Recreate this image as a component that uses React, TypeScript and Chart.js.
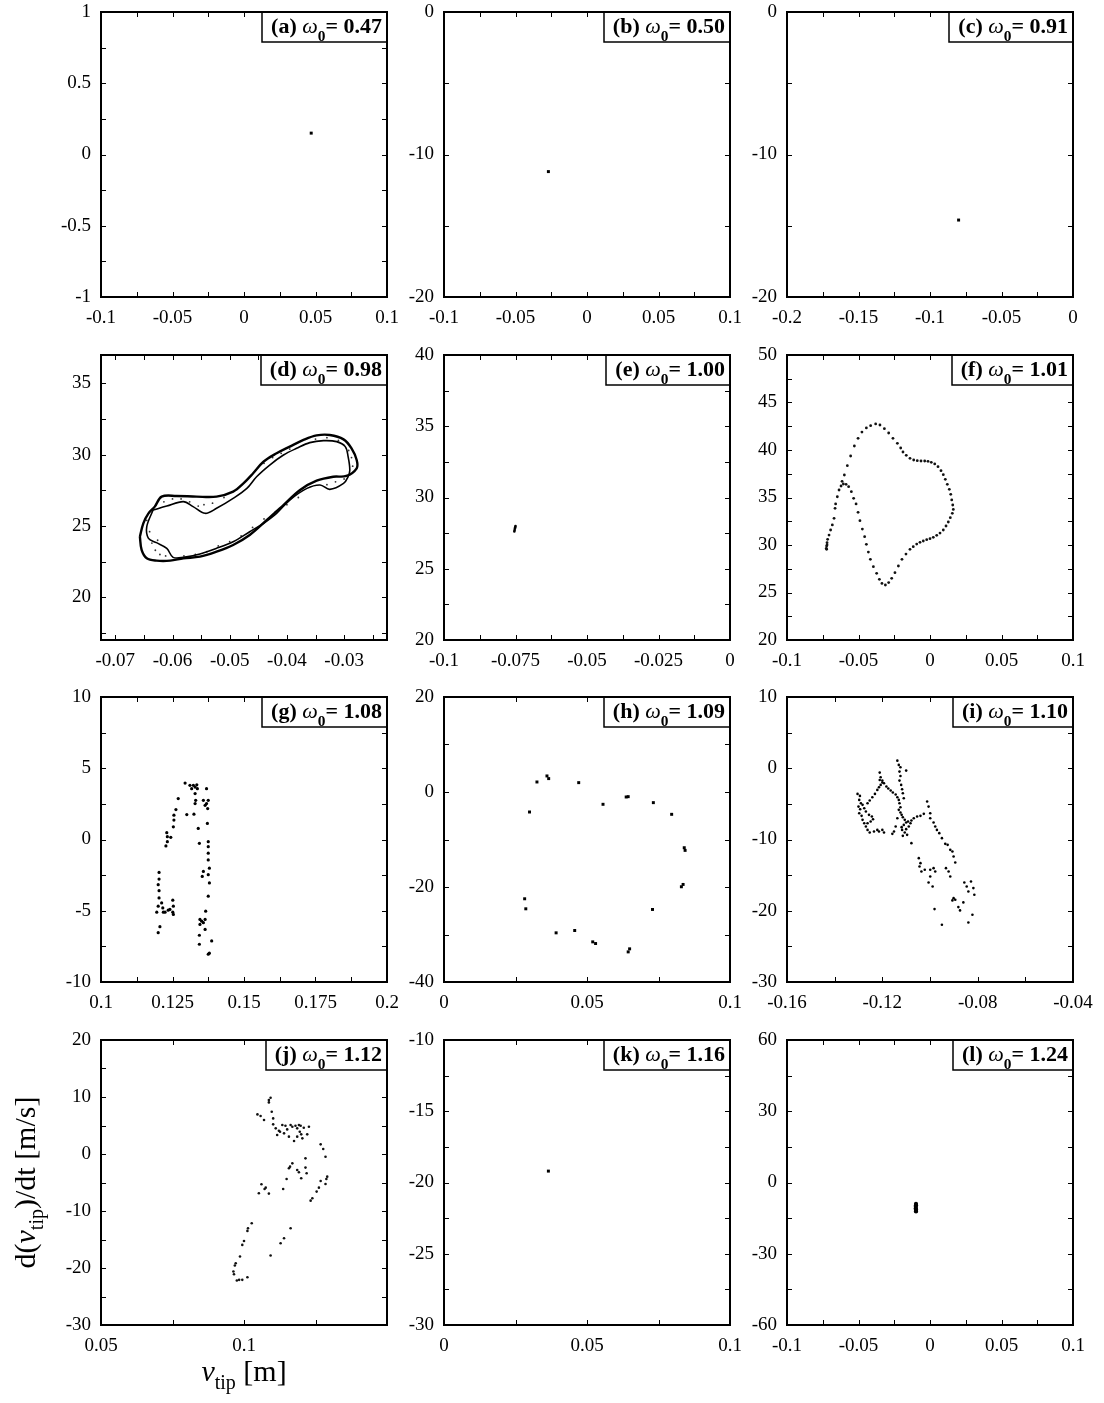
import React, { useEffect, useRef } from "react";
import { Chart, registerables } from "chart.js";
Chart.register(...registerables);
Chart.defaults.color = "#000";

const FONT = "'Liberation Serif', 'Times New Roman', Times, serif";

// ---------- panel meta ----------
const panelTags = ["(a)", "(b)", "(c)", "(d)", "(e)", "(f)", "(g)", "(h)", "(i)", "(j)", "(k)", "(l)"];
const omegaValues = ["0.47", "0.50", "0.91", "0.98", "1.00", "1.01", "1.08", "1.09", "1.10", "1.12", "1.16", "1.24"];

const xRanges = [[-0.1, 0.1], [-0.1, 0.1], [-0.2, 0], [-0.0725, -0.0225], [-0.1, 0], [-0.1, 0.1], [0.1, 0.2], [0, 0.1], [-0.16, -0.04], [0.05, 0.15], [0, 0.1], [-0.1, 0.1]];
const yRanges = [[-1, 1], [-20, 0], [-20, 0], [17, 37], [20, 40], [20, 50], [-10, 10], [-40, 20], [-30, 10], [-30, 20], [-30, -10], [-60, 60]];

const xTickLabels = [
  [-0.1, -0.05, 0, 0.05, 0.1],
  [-0.1, -0.05, 0, 0.05, 0.1],
  [-0.2, -0.15, -0.1, -0.05, 0],
  [-0.07, -0.06, -0.05, -0.04, -0.03],
  [-0.1, -0.075, -0.05, -0.025, 0],
  [-0.1, -0.05, 0, 0.05, 0.1],
  [0.1, 0.125, 0.15, 0.175, 0.2],
  [0, 0.05, 0.1],
  [-0.16, -0.12, -0.08, -0.04],
  [0.05, 0.1],
  [0, 0.05, 0.1],
  [-0.1, -0.05, 0, 0.05, 0.1],
];
const yTickLabels = [
  [-1, -0.5, 0, 0.5, 1],
  [-20, -10, 0],
  [-20, -10, 0],
  [20, 25, 30, 35],
  [20, 25, 30, 35, 40],
  [20, 25, 30, 35, 40, 45, 50],
  [-10, -5, 0, 5, 10],
  [-40, -20, 0, 20],
  [-30, -20, -10, 0, 10],
  [-30, -20, -10, 0, 10, 20],
  [-30, -25, -20, -15, -10],
  [-60, -30, 0, 30, 60],
];

// ---------- data ----------
const dataA = [[0.047, 0.15]];
const dataB = [[-0.027, -11.2]];
const dataC = [[-0.08, -14.6]];

const dOuter = [
  [-0.0657, 24.25], [-0.0654, 23.32], [-0.0645, 22.73], [-0.0628, 22.57], [-0.0604, 22.57], [-0.0581, 22.73],
  [-0.0552, 22.85], [-0.0523, 23.2], [-0.0494, 23.67], [-0.0465, 24.37], [-0.0435, 25.42], [-0.0406, 26.47],
  [-0.0377, 27.53], [-0.0348, 28.18], [-0.0319, 28.46], [-0.0296, 28.51], [-0.0278, 29.05], [-0.0278, 29.63],
  [-0.0287, 30.45], [-0.0301, 31.08], [-0.0325, 31.39], [-0.0348, 31.36], [-0.0371, 31.04], [-0.0395, 30.57],
  [-0.0418, 30.1], [-0.0441, 29.51], [-0.0459, 28.7], [-0.0476, 27.99], [-0.0494, 27.41], [-0.0523, 27.06],
  [-0.0558, 27.06], [-0.0593, 27.11], [-0.0619, 27.06], [-0.0631, 26.36], [-0.0642, 25.89], [-0.0651, 25.19],
];
const dInner = [
  [-0.0634, 26.12], [-0.061, 26.4], [-0.0581, 26.71], [-0.0564, 26.36], [-0.0543, 25.89], [-0.0523, 26.24],
  [-0.0494, 26.94], [-0.047, 27.64], [-0.0453, 28.46], [-0.043, 29.28], [-0.0406, 29.98], [-0.0383, 30.45],
  [-0.036, 30.85], [-0.0336, 30.99], [-0.0313, 30.92], [-0.0298, 30.57], [-0.0293, 29.87], [-0.029, 28.93],
  [-0.0293, 28.46], [-0.0301, 27.99], [-0.0325, 27.57], [-0.0342, 27.88], [-0.0365, 27.64], [-0.0395, 26.82],
  [-0.0418, 25.89], [-0.0441, 25.19], [-0.0465, 24.6], [-0.0494, 23.9], [-0.0523, 23.43], [-0.0552, 23.04],
  [-0.0581, 22.8], [-0.0599, 22.8], [-0.061, 23.43], [-0.0628, 23.83], [-0.0642, 24.13], [-0.0645, 24.95],
];
const dBand = [
  [-0.064, 24.6], [-0.0636, 23.8], [-0.063, 23.3], [-0.0622, 23.0], [-0.0612, 22.9], [-0.0645, 25.4], [-0.0626, 24.0],
  [-0.0615, 26.7], [-0.06, 26.9], [-0.0585, 26.9], [-0.057, 26.7], [-0.0555, 26.4], [-0.0545, 26.5], [-0.053, 26.6], [-0.051, 27.0],
  [-0.044, 29.4], [-0.0425, 29.8], [-0.041, 30.1], [-0.0395, 30.4], [-0.035, 31.1], [-0.033, 31.2], [-0.031, 31.0],
  [-0.0292, 30.3], [-0.0287, 29.8], [-0.0285, 29.2], [-0.03, 28.3], [-0.0315, 28.1], [-0.033, 27.9],
  [-0.038, 27.0], [-0.04, 26.5], [-0.042, 26.0], [-0.044, 25.5], [-0.046, 24.9], [-0.048, 24.3], [-0.05, 23.9],
  [-0.052, 23.6], [-0.054, 23.2], [-0.056, 23.0], [-0.058, 22.9],
];

const dataE = [[-0.0754, 27.62], [-0.0753, 27.72], [-0.0752, 27.82], [-0.0751, 27.92], [-0.075, 28.0]];

const dataF = [
  [-0.0725, 29.65], [-0.0723, 29.54], [-0.0723, 29.89], [-0.072, 30.0], [-0.072, 30.25], [-0.0716, 30.6], [-0.0706, 31.05],
  [-0.0695, 31.58], [-0.0683, 32.11], [-0.0671, 32.81], [-0.0664, 33.86], [-0.066, 34.32], [-0.0648, 35.08],
  [-0.0636, 35.79], [-0.0622, 36.21], [-0.0606, 36.42], [-0.0587, 36.39], [-0.0569, 36.14], [-0.055, 35.61],
  [-0.0534, 34.91], [-0.0517, 34.32], [-0.0503, 33.44], [-0.049, 32.56], [-0.0473, 31.68], [-0.0457, 30.88],
  [-0.0445, 30.07], [-0.0431, 29.26], [-0.0417, 28.49], [-0.0396, 27.72], [-0.0373, 27.02], [-0.0354, 26.39],
  [-0.0336, 25.96], [-0.0312, 25.79], [-0.0289, 26.04], [-0.0268, 26.49], [-0.0245, 27.09], [-0.0221, 27.79],
  [-0.0196, 28.49], [-0.0168, 29.05], [-0.014, 29.54], [-0.0117, 29.82], [-0.0093, 30.1], [-0.007, 30.28],
  [-0.0047, 30.42], [-0.0023, 30.56], [0.0, 30.67], [0.0023, 30.81], [0.0047, 31.02], [0.007, 31.26],
  [0.0093, 31.58], [0.0112, 32.0], [0.0128, 32.42], [0.0142, 32.88], [0.0156, 33.33], [0.0163, 33.75],
  [0.0159, 34.21], [0.0152, 34.74], [0.0145, 35.33], [0.0135, 35.86], [0.0121, 36.39], [0.0107, 36.91],
  [0.0093, 37.4], [0.0077, 37.82], [0.0056, 38.25], [0.0033, 38.53], [0.0009, 38.7], [-0.0014, 38.81],
  [-0.0037, 38.84], [-0.0063, 38.84], [-0.0089, 38.88], [-0.0114, 38.95], [-0.014, 39.12], [-0.0166, 39.44],
  [-0.0189, 39.79], [-0.0205, 40.21], [-0.0228, 40.7], [-0.0259, 41.23], [-0.0289, 41.79], [-0.0319, 42.25],
  [-0.035, 42.63], [-0.038, 42.74], [-0.0415, 42.56], [-0.0445, 42.32], [-0.0476, 41.89], [-0.0503, 41.23],
  [-0.0529, 40.42], [-0.0555, 39.37], [-0.0578, 38.35], [-0.0599, 37.37], [-0.0615, 36.7],
];

const dataG = [
  [0.12, -6.54], [0.1206, -6.12], [0.1195, -5.1], [0.12, -4.68], [0.1203, -4.1], [0.1203, -3.59], [0.12, -3.17],
  [0.1203, -2.78], [0.1203, -2.31], [0.1212, -4.45], [0.1216, -4.8], [0.1218, -5.1], [0.1224, -5.1], [0.1235, -4.96],
  [0.1241, -4.91], [0.1251, -4.26], [0.1253, -4.68], [0.1253, -5.26], [0.1251, -5.1],
  [0.1227, -0.45], [0.1232, -0.15], [0.1232, 0.2], [0.123, 0.48], [0.1244, 0.15], [0.1253, 0.89], [0.1255, 1.36],
  [0.1255, 1.71], [0.1262, 2.1], [0.127, 2.87],
  [0.1294, 3.96], [0.1311, 3.8], [0.1317, 3.57], [0.1323, 3.8], [0.1329, 3.68], [0.1335, 3.84], [0.1337, 3.57],
  [0.1329, 3.22], [0.1331, 2.75], [0.1329, 2.52], [0.1325, 1.78], [0.13, 1.75], [0.134, 0.78], [0.1344, -0.27],
  [0.1358, 2.75], [0.1364, 2.4], [0.1369, 2.52], [0.1375, 2.75], [0.1369, 3.57], [0.1373, 2.17], [0.1372, 1.13],
  [0.1375, -0.15], [0.1375, -0.5], [0.1375, -0.96], [0.1375, -1.43], [0.1379, -2.01], [0.1375, -2.47],
  [0.1379, -3.05], [0.1375, -3.98], [0.1366, -5.03], [0.1364, -5.61], [0.1358, -5.84], [0.1352, -5.73],
  [0.1346, -5.96], [0.1346, -5.61], [0.1364, -6.31], [0.1344, -6.72], [0.1344, -7.35], [0.1375, -8.05],
  [0.1379, -7.98], [0.1387, -7.12], [0.1358, -2.24], [0.1354, -2.59],
];

const dataH = [
  [0.0325, 2.11], [0.0366, 2.82], [0.036, 3.38], [0.0471, 1.97], [0.0299, -4.21], [0.0556, -2.59], [0.0644, -0.98],
  [0.0637, -1.05], [0.0732, -2.24], [0.0796, -4.7], [0.0843, -12.29], [0.084, -11.73], [0.083, -19.95],
  [0.0836, -19.46], [0.0729, -24.73], [0.0282, -22.48], [0.0286, -24.59], [0.0392, -29.65], [0.0457, -29.16],
  [0.052, -31.55], [0.053, -31.9], [0.0644, -33.66], [0.0649, -33.02],
];

const dataI = [
  [-0.1304, -3.6], [-0.1294, -3.88], [-0.1297, -4.44], [-0.129, -4.91], [-0.13, -5.38], [-0.1293, -5.75],
  [-0.1297, -6.31], [-0.1287, -6.68], [-0.1283, -7.24], [-0.1276, -7.71], [-0.1269, -8.18], [-0.1262, -8.65],
  [-0.1253, -9.02], [-0.1235, -8.88], [-0.1221, -8.65], [-0.1214, -8.88], [-0.12, -8.65], [-0.1193, -9.02],
  [-0.1283, -5.14], [-0.1276, -5.61], [-0.1269, -6.08], [-0.1256, -6.54], [-0.1244, -6.78], [-0.1239, -7.15],
  [-0.1249, -7.48], [-0.1262, -7.71],
  [-0.1262, -4.91], [-0.1253, -4.53], [-0.1242, -4.07], [-0.1231, -3.6], [-0.1221, -3.04], [-0.1214, -2.66],
  [-0.1207, -2.34], [-0.12, -2.01], [-0.1211, -1.64], [-0.1207, -1.26], [-0.1211, -0.61], [-0.12, -1.73],
  [-0.1193, -2.1], [-0.1183, -2.57], [-0.1175, -2.85], [-0.1165, -3.13], [-0.1156, -3.41], [-0.1144, -3.69],
  [-0.1137, -4.07], [-0.1131, -4.44], [-0.1128, -4.91], [-0.1124, -5.47],
  [-0.1137, 1.07], [-0.1131, 0.47], [-0.1124, 0.14], [-0.1128, -0.47], [-0.1124, -1.08], [-0.1128, -1.73],
  [-0.1121, -2.34], [-0.1117, -2.95], [-0.1114, -3.51], [-0.11, -0.33], [-0.111, -4.21],
  [-0.1131, -5.84], [-0.1124, -6.22], [-0.1119, -6.54], [-0.1114, -6.87], [-0.1106, -7.24], [-0.11, -7.62],
  [-0.111, -7.95], [-0.1119, -8.27], [-0.1117, -8.65], [-0.1106, -9.02], [-0.1096, -9.35], [-0.1114, -9.49],
  [-0.11, -8.55], [-0.1089, -8.18], [-0.1082, -7.71], [-0.1092, -7.48], [-0.1078, -7.34], [-0.1068, -7.01],
  [-0.1054, -6.78], [-0.104, -6.68], [-0.1026, -6.4], [-0.1151, -8.88], [-0.1144, -8.18], [-0.1158, -9.21],
  [-0.1137, -7.01], [-0.1078, -10.51],
  [-0.1012, -4.67], [-0.1006, -5.38], [-0.0999, -6.31], [-0.0985, -7.62], [-0.0978, -8.18], [-0.0971, -8.65],
  [-0.0961, -9.11], [-0.095, -9.81], [-0.0936, -10.61], [-0.0926, -10.75], [-0.0915, -11.45], [-0.0906, -11.68],
  [-0.0901, -12.38], [-0.0894, -13.23], [-0.0999, -7.01],
  [-0.1047, -12.62], [-0.104, -13.32], [-0.1044, -13.79], [-0.1036, -14.49], [-0.1022, -14.25], [-0.0999, -14.25],
  [-0.0985, -14.02], [-0.0978, -14.49], [-0.0999, -15.19], [-0.1006, -16.03], [-0.0989, -16.59], [-0.0922, -14.49],
  [-0.0933, -14.02], [-0.0915, -15.19], [-0.0981, -19.77], [-0.095, -21.96], [-0.0901, -18.23], [-0.0894, -18.46],
  [-0.0906, -18.55], [-0.0881, -19.49], [-0.0874, -19.95], [-0.086, -18.83], [-0.0856, -16.03], [-0.0846, -16.59],
  [-0.0839, -17.29], [-0.0828, -15.89], [-0.0818, -16.82], [-0.0814, -17.76], [-0.0839, -21.64], [-0.0822, -20.56],
];

const dataJ = [
  [0.1087, 9.46], [0.1093, 9.87], [0.1087, 9.05], [0.1047, 6.95], [0.1058, 6.66], [0.107, 5.96], [0.1097, 7.42],
  [0.1102, 6.25], [0.1102, 5.2], [0.1111, 4.5], [0.1122, 4.09], [0.1126, 3.91], [0.1134, 5.08], [0.1145, 4.96],
  [0.1151, 4.32], [0.1163, 5.08], [0.1169, 4.79], [0.118, 4.96], [0.1192, 5.08], [0.1198, 4.96], [0.1186, 4.5],
  [0.1195, 3.91], [0.12, 3.45], [0.1221, 3.45], [0.1227, 4.79], [0.1209, 4.61], [0.1116, 3.33], [0.114, 3.62],
  [0.1157, 3.04], [0.1175, 2.28], [0.1186, 3.04], [0.1204, 2.75], [0.1268, 1.69], [0.1277, 0.88], [0.1285, -0.47],
  [0.1291, -3.97], [0.1288, -4.38], [0.1285, -5.26], [0.1268, -4.73], [0.1262, -5.9], [0.1254, -6.6],
  [0.1239, -7.77], [0.1233, -8.18], [0.1215, -0.76], [0.1215, -2.39], [0.1219, -3.39], [0.1186, -2.8],
  [0.1192, -3.21], [0.12, -4.26], [0.1169, -1.64], [0.1161, -2.22], [0.1157, -2.51], [0.1149, -4.38],
  [0.1137, -6.13], [0.1076, -5.9], [0.1072, -6.13], [0.1061, -5.32], [0.1052, -6.89], [0.1087, -6.95],
  [0.1027, -12.15], [0.1014, -13.03], [0.1012, -13.49], [0.1, -15.25], [0.0994, -15.95], [0.0986, -17.99],
  [0.0971, -19.16], [0.0968, -19.57], [0.0963, -20.62], [0.0965, -21.09], [0.0975, -22.2], [0.0983, -22.08],
  [0.0994, -22.08], [0.1012, -21.61], [0.1093, -17.82], [0.1128, -15.65], [0.114, -14.78], [0.1163, -13.03],
];

const dataK = [[0.0365, -19.2]];
const dataL = [[-0.0098, -9.0], [-0.0098, -9.6], [-0.0099, -10.2], [-0.0099, -10.8], [-0.0098, -11.4], [-0.0098, -12.0], [-0.0098, -12.2]];

type Series = { data: number[][]; radius: number; style: string; line?: boolean; color?: string; width?: number };
const panelSeries: Series[][] = [
  [{ data: dataA, radius: 2.1, style: "rect" }],
  [{ data: dataB, radius: 2.1, style: "rect" }],
  [{ data: dataC, radius: 2.1, style: "rect" }],
  [
    { data: [...dOuter, dOuter[0]], radius: 0, style: "circle", line: true, width: 2.4 },
    { data: [...dInner, dInner[0]], radius: 0, style: "circle", line: true, width: 1.6 },
    { data: dBand, radius: 0.9, style: "circle", color: "#333" },
  ],
  [{ data: dataE, radius: 1.3, style: "circle" }],
  [{ data: dataF, radius: 1.4, style: "circle", color: "#111" }],
  [{ data: dataG, radius: 1.6, style: "circle" }],
  [{ data: dataH, radius: 2.1, style: "rect" }],
  [{ data: dataI, radius: 1.3, style: "circle", color: "#000" }],
  [{ data: dataJ, radius: 1.3, style: "circle", color: "#111" }],
  [{ data: dataK, radius: 2.1, style: "rect" }],
  [{ data: dataL, radius: 2.1, style: "circle" }],
];

// ---------- layout ----------
const COL_LEFT = [101, 444, 787];
const ROW_TOP = [12, 355, 697, 1040];
const PLOT_W = 286;
const PLOT_H = 285;
const AXIS_W = 93;
const PAD_TOP = 12;
const PAD_RIGHT = 22;

function fmt(v: number) {
  const r = Math.round(v * 100000) / 100000;
  return (Object.is(r, -0) ? 0 : r).toString();
}

function tickMarks(min: number, max: number, labels: number[]) {
  const step = (labels[1] - labels[0]) / 2;
  const start = Math.ceil(min / step - 1e-6);
  const end = Math.floor(max / step + 1e-6);
  const out: number[] = [];
  for (let k = start; k <= end; k++) out.push(Math.round(k * step * 1e7) / 1e7);
  return out;
}

function isLabel(v: number, labels: number[]) {
  return labels.some((l) => Math.abs(l - v) < 1e-7);
}

type Seg = { t: string; f: string; dy?: number };
function segsWidth(ctx: CanvasRenderingContext2D, segs: Seg[]) {
  let w = 0;
  for (const s of segs) {
    ctx.font = s.f;
    w += ctx.measureText(s.t).width;
  }
  return w;
}
function drawSegs(ctx: CanvasRenderingContext2D, segs: Seg[], x: number, y: number, sx: number) {
  ctx.save();
  ctx.translate(x, y);
  ctx.scale(sx, 1);
  let cx = 0;
  ctx.textAlign = "left";
  ctx.textBaseline = "alphabetic";
  for (const s of segs) {
    ctx.font = s.f;
    ctx.fillText(s.t, cx, s.dy || 0);
    cx += ctx.measureText(s.t).width;
  }
  ctx.restore();
}

const decorPlugin = {
  id: "panelDecor",
  afterDatasetsDraw(chart: any, _args: any, opts: any) {
    const ctx: CanvasRenderingContext2D = chart.ctx;
    const a = chart.chartArea;
    const xs = chart.scales.x;
    const ys = chart.scales.y;
    ctx.save();
    ctx.strokeStyle = "#000";
    ctx.fillStyle = "#000";
    ctx.lineWidth = 1;
    const TL = 5;
    ctx.beginPath();
    xs.ticks.forEach((t: any) => {
      const px = Math.round(xs.getPixelForValue(t.value)) + 0.5;
      if (px < a.left + 2 || px > a.right - 2) return;
      ctx.moveTo(px, a.bottom);
      ctx.lineTo(px, a.bottom - TL);
      ctx.moveTo(px, a.top);
      ctx.lineTo(px, a.top + TL);
    });
    ys.ticks.forEach((t: any) => {
      const py = Math.round(ys.getPixelForValue(t.value)) + 0.5;
      if (py < a.top + 2 || py > a.bottom - 2) return;
      ctx.moveTo(a.left, py);
      ctx.lineTo(a.left + TL, py);
      ctx.moveTo(a.right, py);
      ctx.lineTo(a.right - TL, py);
    });
    ctx.stroke();

    // title box
    const F = 20;
    const SX = 1.1;
    const segs: Seg[] = [
      { t: opts.tag + " ", f: `bold ${F}px ${FONT}` },
      { t: "\u03c9", f: `italic ${F}px ${FONT}` },
      { t: "0", f: `bold ${Math.round(F * 0.7)}px ${FONT}`, dy: 8 },
      { t: "= " + opts.omega, f: `bold ${F}px ${FONT}` },
    ];
    const w = segsWidth(ctx, segs) * SX;
    const textLeft = a.right - 5 - w;
    const boxLeft = Math.round(textLeft - 9);
    const boxH = 30;
    ctx.fillStyle = "#fff";
    ctx.fillRect(boxLeft, a.top, a.right - boxLeft, boxH);
    ctx.lineWidth = 1.5;
    ctx.strokeRect(boxLeft, a.top, a.right - boxLeft, boxH);
    ctx.fillStyle = "#000";
    drawSegs(ctx, segs, textLeft, a.top + 21, SX);

    // frame
    ctx.lineWidth = 2;
    ctx.strokeRect(a.left, a.top, a.right - a.left, a.bottom - a.top);

    // axis titles
    if (opts.axisTitles) {
      const ySegs: Seg[] = [
        { t: "d(", f: `30px ${FONT}` },
        { t: "v", f: `italic 30px ${FONT}` },
        { t: "tip", f: `20px ${FONT}`, dy: 8 },
        { t: ")/dt [m/s]", f: `30px ${FONT}` },
      ];
      const yw = segsWidth(ctx, ySegs);
      ctx.save();
      ctx.translate(a.left - 66, (a.top + a.bottom) / 2);
      ctx.rotate(-Math.PI / 2);
      drawSegs(ctx, ySegs, -yw / 2, 0, 1);
      ctx.restore();

      const xSegs: Seg[] = [
        { t: "v", f: `italic 30px ${FONT}` },
        { t: "tip", f: `20px ${FONT}`, dy: 8 },
        { t: " [m]", f: `30px ${FONT}` },
      ];
      const xw = segsWidth(ctx, xSegs);
      drawSegs(ctx, xSegs, (a.left + a.right) / 2 - xw / 2, a.bottom + 56, 1);
    }
    ctx.restore();
  },
};

function Panel({ idx }: { idx: number }) {
  const ref = useRef<HTMLCanvasElement>(null);
  const col = idx % 3;
  const row = Math.floor(idx / 3);
  const XH = row === 3 ? 78 : 45;
  const W = AXIS_W + PLOT_W + PAD_RIGHT;
  const H = PAD_TOP + PLOT_H + XH;
  const left = COL_LEFT[col] - AXIS_W;
  const top = ROW_TOP[row] - PAD_TOP;

  useEffect(() => {
    const [xMin, xMax] = xRanges[idx];
    const [yMin, yMax] = yRanges[idx];
    const xMarks = tickMarks(xMin, xMax, xTickLabels[idx]);
    const yMarks = tickMarks(yMin, yMax, yTickLabels[idx]);
    const datasets = panelSeries[idx].map((s) => ({
      data: s.data.map(([x, y]) => ({ x, y })),
      showLine: !!s.line,
      borderColor: "#000",
      borderWidth: s.line ? s.width || 2 : 0,
      tension: s.line ? 0.35 : 0,
      pointRadius: s.radius,
      pointStyle: s.style,
      pointBackgroundColor: s.color || "#000",
      pointBorderWidth: 0,
      pointHoverRadius: s.radius,
    }));
    const tickFont = { family: FONT, size: 19 };
    const chart = new Chart(ref.current as HTMLCanvasElement, {
      type: "scatter",
      data: { datasets } as any,
      plugins: [decorPlugin as any],
      options: {
        animation: false,
        responsive: false,
        devicePixelRatio: 1,
        events: [],
        layout: { padding: { top: PAD_TOP, right: PAD_RIGHT, bottom: 0, left: 0 } },
        plugins: {
          legend: { display: false },
          tooltip: { enabled: false },
          panelDecor: { tag: panelTags[idx], omega: omegaValues[idx], axisTitles: idx === 9 },
        } as any,
        scales: {
          x: {
            type: "linear",
            position: "bottom",
            min: xMin,
            max: xMax,
            grid: { display: false, drawTicks: false },
            border: { display: false },
            ticks: {
              autoSkip: false,
              maxRotation: 0,
              padding: 10,
              color: "#000",
              font: tickFont,
              callback: (v: any) => (isLabel(Number(v), xTickLabels[idx]) ? fmt(Number(v)) : ""),
            },
            afterBuildTicks: (s: any) => {
              s.ticks = xMarks.map((v) => ({ value: v }));
            },
            afterFit: (s: any) => {
              s.height = XH;
              s.paddingLeft = 0;
              s.paddingRight = 0;
              s.paddingTop = 0;
              s.paddingBottom = 0;
            },
          },
          y: {
            type: "linear",
            position: "left",
            min: yMin,
            max: yMax,
            grid: { display: false, drawTicks: false },
            border: { display: false },
            ticks: {
              autoSkip: false,
              padding: 10,
              color: "#000",
              font: tickFont,
              callback: (v: any) => (isLabel(Number(v), yTickLabels[idx]) ? fmt(Number(v)) : ""),
            },
            afterBuildTicks: (s: any) => {
              s.ticks = yMarks.map((v) => ({ value: v }));
            },
            afterFit: (s: any) => {
              s.width = AXIS_W;
              s.paddingLeft = 0;
              s.paddingRight = 0;
              s.paddingTop = 0;
              s.paddingBottom = 0;
            },
          },
        },
      } as any,
    });
    return () => chart.destroy();
  }, [idx]);

  return (
    <canvas
      ref={ref}
      width={W}
      height={H}
      style={{ position: "absolute", left, top, width: W, height: H }}
    />
  );
}

export default function App() {
  const ids = [0, 1, 2, 3, 4, 5, 6, 7, 8, 9, 10, 11];
  return (
    <div style={{ position: "fixed", left: 0, top: 0, width: 1104, height: 1403, background: "#fff", overflow: "hidden" }}>
      {ids.map((i) => (
        <Panel key={i} idx={i} />
      ))}
    </div>
  );
}
